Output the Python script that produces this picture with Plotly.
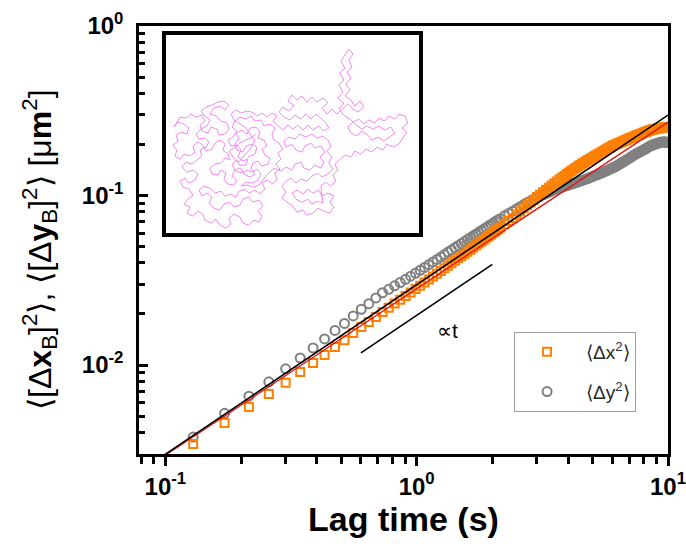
import plotly.graph_objects as go

# ---------------- data ----------------
lag_time = [0.129, 0.172, 0.215, 0.258, 0.301, 0.344, 0.387, 0.430, 0.473, 0.516,
            0.559, 0.602, 0.645, 0.688, 0.731, 0.774, 0.817, 0.860, 0.903, 0.946,
            0.989, 1.032, 1.075, 1.118, 1.161, 1.204, 1.247, 1.290, 1.333, 1.376,
            1.419, 1.462, 1.505, 1.548, 1.591, 1.634, 1.677, 1.720, 1.763, 1.806,
            1.849, 1.892, 1.935, 1.978, 2.021, 2.064, 2.107, 2.150,
            2.236, 2.322, 2.408, 2.494, 2.580, 2.666, 2.752, 2.838, 2.924, 3.010,
            3.096, 3.182, 3.268, 3.354, 3.440, 3.526, 3.612, 3.698, 3.784, 3.870,
            3.956, 4.042, 4.128, 4.214, 4.300,
            4.386, 4.472, 4.558, 4.644, 4.730, 4.816, 4.902, 4.988, 5.074, 5.160,
            5.246, 5.332, 5.418, 5.504, 5.590, 5.676, 5.762, 5.848, 5.934, 6.020,
            6.106, 6.192, 6.278, 6.364, 6.450, 6.536, 6.622, 6.708, 6.794, 6.880,
            6.966, 7.052, 7.138, 7.224, 7.310,
            7.396, 7.482, 7.568, 7.654, 7.740, 7.826, 7.912, 7.998, 8.084, 8.170,
            8.256, 8.342, 8.428, 8.514, 8.600,
            8.686, 8.772, 8.858, 8.944, 9.030, 9.116, 9.202, 9.288, 9.374, 9.460,
            9.546, 9.632, 9.718, 9.804, 9.890, 9.976]

msd_x = [0.00342, 0.00455, 0.00566, 0.00674, 0.00785, 0.00909, 0.01028, 0.01147, 0.01277, 0.01402,
         0.01544, 0.01674, 0.01793, 0.01917, 0.02056, 0.02177, 0.02303, 0.02424, 0.02551, 0.02681,
         0.02809, 0.02937, 0.03066, 0.03195, 0.03328, 0.03459, 0.03590, 0.03721, 0.03857, 0.03990,
         0.04123, 0.04257, 0.04382, 0.04516, 0.04656, 0.04791, 0.04928, 0.05069, 0.05206, 0.05344,
         0.05483, 0.05627, 0.05766, 0.05894, 0.06035, 0.06182, 0.06323, 0.06465,
         0.06757, 0.07065, 0.07377, 0.07715, 0.08050, 0.08398, 0.08751, 0.09100, 0.09445, 0.09786,
         0.1011, 0.1045, 0.1078, 0.1111, 0.1145, 0.1179, 0.1211, 0.1242, 0.1274, 0.1305,
         0.1338, 0.1367, 0.1400, 0.1429, 0.1458,
         0.1487, 0.1513, 0.1542, 0.1567, 0.1596, 0.1622, 0.1646, 0.1672, 0.1697, 0.1721,
         0.1746, 0.1770, 0.1795, 0.1819, 0.1844, 0.1867, 0.1892, 0.1915, 0.1938, 0.1963,
         0.1982, 0.2000, 0.2019, 0.2037, 0.2055, 0.2072, 0.2090, 0.2107, 0.2126, 0.2143,
         0.2159, 0.2175, 0.2191, 0.2209, 0.2224,
         0.2239, 0.2256, 0.2271, 0.2285, 0.2302, 0.2316, 0.2332, 0.2345, 0.2358, 0.2374,
         0.2389, 0.2401, 0.2416, 0.2428, 0.2442,
         0.2449, 0.2457, 0.2463, 0.2471, 0.2476, 0.2483, 0.2490, 0.2497, 0.2500, 0.2506,
         0.2512, 0.2517, 0.2522, 0.2527, 0.2532, 0.2530]

msd_y = [0.00376, 0.00519, 0.00655, 0.00796, 0.00950, 0.01100, 0.01260, 0.01425, 0.01600, 0.01758,
         0.01947, 0.02133, 0.02301, 0.02487, 0.02669, 0.02798, 0.02934, 0.03068, 0.03205, 0.03343,
         0.03478, 0.03623, 0.03764, 0.03905, 0.04055, 0.04194, 0.04344, 0.04486, 0.04636, 0.04773,
         0.04922, 0.05058, 0.05207, 0.05347, 0.05495, 0.05629, 0.05777, 0.05910, 0.06058, 0.06195,
         0.06342, 0.06473, 0.06620, 0.06755, 0.06902, 0.07030, 0.07177, 0.07304,
         0.07583, 0.07833, 0.08087, 0.08339, 0.08588, 0.08835, 0.09079, 0.09294, 0.09506, 0.09723,
         0.09909, 0.1009, 0.1026, 0.1044, 0.1061, 0.1078, 0.1094, 0.1108, 0.1120, 0.1133,
         0.1145, 0.1155, 0.1166, 0.1178, 0.1190,
         0.1202, 0.1215, 0.1228, 0.1239, 0.1250, 0.1264, 0.1278, 0.1292, 0.1305, 0.1318,
         0.1330, 0.1343, 0.1355, 0.1368, 0.1383, 0.1397, 0.1411, 0.1426, 0.1441, 0.1455,
         0.1468, 0.1485, 0.1502, 0.1521, 0.1538, 0.1558, 0.1575, 0.1595, 0.1612, 0.1632,
         0.1648, 0.1669, 0.1689, 0.1709, 0.1730,
         0.1746, 0.1764, 0.1779, 0.1795, 0.1811, 0.1826, 0.1844, 0.1859, 0.1874, 0.1889,
         0.1909, 0.1929, 0.1949, 0.1964, 0.1976,
         0.1985, 0.1997, 0.2006, 0.2018, 0.2026, 0.2037, 0.2046, 0.2056, 0.2062, 0.2066,
         0.2071, 0.2070, 0.2071, 0.2068, 0.2063, 0.2057]

# linear fits (end points)
fit_t = [0.08, 10.0]
fit_black = [0.00238, 0.298]
fit_red = [0.00236, 0.271]

# "proportional to t" guide
guide_t = [0.6, 2.0]
guide_y = [0.0118, 0.0392]

# inset trajectory, (x, y) in micrometre-like units
trajectory = [
    (8.2, 7.6), (8.9, 7.9), (9.1, 8.6), (8.6, 8.9), (8.0, 8.7), (7.7, 8.1), (7.1, 8.3), (6.9, 8.9), (7.3, 9.4), (7.0, 10.0),
    (7.6, 10.3), (8.1, 9.9), (8.4, 10.5), (9.0, 10.6), (9.4, 10.1), (9.2, 9.5), (9.8, 9.3), (10.1, 8.7), (9.6, 8.4), (9.9, 7.8),
    (10.4, 7.5), (10.2, 6.9), (9.6, 6.7), (9.2, 7.2), (8.7, 7.0), (8.5, 6.4), (8.9, 5.9), (8.4, 5.6), (7.8, 5.9), (7.5, 6.5),
    (6.9, 6.3), (6.6, 5.7), (7.1, 5.3), (6.8, 4.8), (6.2, 4.9), (5.8, 5.4), (6.0, 6.0), (5.5, 6.3), (5.2, 5.8), (4.6, 5.9),
    (4.4, 6.5), (4.9, 6.9), (5.5, 7.0), (5.9, 7.5), (6.4, 7.3), (6.2, 7.9), (5.7, 8.3), (5.9, 8.9), (5.4, 9.3), (4.9, 9.0),
    (4.6, 8.4), (4.0, 8.2), (3.7, 8.8), (3.2, 9.1), (2.7, 8.7), (2.9, 8.1), (2.4, 7.7), (1.8, 7.9), (1.4, 7.4), (0.9, 7.7),
    (1.1, 8.3), (0.7, 8.8), (1.2, 9.2), (1.0, 9.8), (1.5, 10.1), (2.1, 9.9), (2.3, 10.5), (1.8, 10.9), (1.2, 11.1), (0.8, 10.6),
    (1.4, 11.6), (2.0, 11.5), (2.5, 11.9), (3.0, 11.6), (3.6, 11.8), (3.9, 11.2), (3.4, 10.8), (3.6, 10.2), (4.2, 10.0), (4.5, 10.6),
    (5.1, 10.4), (5.3, 9.8), (5.9, 9.9), (6.3, 10.4), (6.1, 11.0), (5.5, 11.2), (5.0, 11.7), (4.4, 11.9), (4.8, 12.5), (5.4, 12.7),
    (5.9, 12.3), (6.3, 12.8), (5.8, 13.2), (5.2, 13.1), (4.6, 12.8), (4.0, 12.6), (3.5, 12.2), (3.9, 11.7), (4.4, 11.3), (4.1, 10.7),
    (3.5, 10.4), (3.0, 9.9), (3.3, 9.4), (3.9, 9.5), (4.3, 9.1), (4.0, 8.6), (3.4, 8.3), (3.6, 7.7), (3.1, 7.3), (2.6, 6.9),
    (2.0, 7.1), (1.6, 6.6), (2.1, 6.1), (2.7, 6.3), (3.2, 5.9), (2.9, 5.3), (2.3, 5.0), (1.9, 5.5), (1.4, 5.2), (1.7, 4.6),
    (2.3, 4.4), (2.7, 3.8), (2.2, 3.4), (1.8, 2.9), (2.4, 2.6), (2.1, 2.0), (2.7, 1.7), (3.2, 2.2), (3.7, 1.9), (3.9, 1.3),
    (4.5, 1.0), (5.0, 1.4), (5.4, 0.8), (6.0, 0.5), (6.5, 0.9), (6.3, 1.5), (6.8, 1.9), (7.4, 1.6), (7.7, 1.0), (8.3, 0.8),
    (8.8, 1.3), (9.3, 1.1), (9.6, 1.7), (9.2, 2.2), (9.7, 2.7), (9.3, 3.3), (8.7, 3.1), (8.3, 3.6), (7.7, 3.4), (7.4, 2.8),
    (6.8, 2.6), (6.4, 3.1), (5.8, 2.9), (5.4, 2.3), (4.8, 2.5), (4.3, 3.0), (4.6, 3.6), (4.1, 4.0), (3.6, 3.7), (3.3, 4.3),
    (3.8, 4.7), (4.4, 4.5), (4.9, 4.0), (5.5, 4.2), (5.9, 3.7), (6.5, 3.9), (7.0, 3.6), (7.3, 4.2), (7.9, 4.4), (8.3, 4.0),
    (8.9, 4.3), (9.4, 3.9), (9.9, 4.4), (9.6, 5.0), (10.2, 5.3), (10.7, 4.9), (11.1, 5.4), (10.9, 6.0), (11.4, 6.4), (11.0, 6.9),
    (11.5, 7.4), (11.2, 8.0), (11.7, 8.4), (11.3, 9.0), (10.8, 9.3), (10.6, 9.9), (10.9, 10.5), (10.4, 10.9), (9.8, 10.7), (9.5, 11.3),
    (8.9, 11.2), (8.5, 11.7), (8.0, 11.4), (7.4, 11.6), (6.9, 11.2), (6.6, 10.6), (7.1, 10.2), (6.7, 9.6), (6.2, 9.3), (6.5, 8.7),
    (7.1, 8.8), (7.5, 8.3), (7.2, 7.6), (7.7, 7.2), (8.2, 7.4), (8.0, 6.8), (7.4, 6.8), (7.0, 7.3), (6.6, 6.8), (7.0, 6.2),
    (7.6, 6.0), (8.1, 6.3), (8.6, 6.1), (9.1, 6.4), (9.5, 5.9), (9.2, 5.3), (8.6, 5.0), (8.0, 5.1), (7.5, 4.7), (8.1, 4.8),
    (8.7, 4.6), (9.3, 4.8), (9.9, 5.6), (10.4, 6.1), (10.8, 6.5), (11.5, 6.2), (12.0, 6.6), (12.6, 6.3), (12.9, 6.9), (13.5, 7.1),
    (13.8, 6.5), (14.4, 6.3), (14.9, 6.8), (15.5, 6.5), (15.8, 7.1), (15.4, 7.6), (15.9, 8.1), (15.5, 8.7), (14.9, 8.5), (14.5, 9.0),
    (13.9, 8.7), (13.6, 8.1), (13.0, 8.3), (12.6, 8.9), (12.0, 8.6), (11.8, 9.2), (12.3, 9.6), (12.9, 9.4), (13.4, 9.9), (14.0, 9.6),
    (14.6, 9.9), (15.1, 9.5), (15.7, 9.7), (16.2, 9.3), (16.5, 8.7), (16.1, 8.2), (16.6, 7.6), (16.3, 7.0), (16.7, 6.4), (16.2, 5.9),
    (15.6, 5.6), (15.2, 6.0), (14.6, 5.7), (14.1, 5.2), (13.5, 5.4), (13.0, 5.0), (12.5, 5.5), (12.0, 5.2), (11.6, 4.7), (12.0, 4.1),
    (11.6, 3.5), (12.1, 3.1), (12.7, 2.7), (13.1, 2.1), (13.7, 2.3), (14.1, 1.8), (14.7, 2.0), (15.2, 2.5), (15.8, 2.2), (16.4, 2.0),
    (16.8, 2.6), (16.4, 3.1), (16.8, 3.7), (16.2, 4.0), (15.6, 3.7), (15.3, 4.3), (14.7, 4.0), (14.2, 4.4), (13.7, 3.9), (13.1, 4.3),
    (12.6, 4.0), (13.0, 3.4), (13.6, 3.1), (14.2, 3.4), (14.6, 2.9), (15.2, 3.2), (15.7, 3.0), (15.5, 4.7), (16.0, 5.1), (16.5, 4.7),
    (17.0, 5.2), (16.7, 5.8), (17.2, 6.3), (16.9, 6.9), (17.4, 7.4), (17.9, 7.8), (18.5, 7.6), (18.9, 8.2), (19.5, 7.9), (20.0, 8.4),
    (20.6, 8.1), (21.1, 8.6), (21.7, 8.3), (22.1, 8.9), (22.7, 8.6), (23.3, 8.9), (23.7, 9.5), (24.1, 10.1), (23.6, 10.5), (24.2, 11.0),
    (23.9, 11.7), (23.3, 11.9), (22.9, 11.4), (22.3, 11.7), (21.9, 11.2), (21.3, 11.5), (20.9, 11.0), (20.3, 11.3), (19.8, 10.9), (19.3, 11.4),
    (18.7, 11.1), (18.2, 10.6), (18.5, 10.0), (19.1, 9.7), (19.6, 10.2), (20.2, 9.8), (20.6, 9.3), (21.2, 9.6), (21.8, 9.2), (22.4, 9.6),
    (22.9, 10.0), (22.5, 10.6), (21.9, 10.3), (21.3, 10.7), (20.7, 10.4), (20.1, 10.7), (19.6, 10.4), (19.0, 10.8), (18.4, 11.4), (17.8, 11.8),
    (17.3, 12.4), (17.8, 13.0), (17.2, 13.5), (17.7, 14.1), (17.3, 14.8), (17.8, 15.3), (17.4, 16.0), (17.9, 16.5), (17.5, 17.2), (17.9, 17.8),
    (18.3, 18.4), (18.7, 17.9), (18.3, 17.3), (18.6, 16.6), (18.1, 16.1), (18.5, 15.5), (18.0, 14.9), (18.4, 14.3), (17.9, 13.7), (18.5, 13.3),
    (18.9, 12.7), (19.4, 13.2), (19.8, 12.6), (19.2, 12.1), (18.7, 12.4), (18.2, 12.9), (17.7, 12.4), (17.1, 11.9), (16.6, 12.4), (16.1, 11.9),
    (15.6, 12.5), (16.2, 13.0), (15.7, 13.5), (15.1, 13.1), (14.6, 13.6), (14.1, 13.1), (13.6, 13.7), (13.1, 13.3), (12.6, 13.8), (12.2, 13.2),
    (12.8, 12.8), (12.3, 12.2), (11.7, 12.6), (11.3, 12.1), (11.8, 11.6), (12.4, 11.3), (12.9, 11.8), (13.5, 11.4), (14.0, 11.9), (14.5, 11.4),
    (15.0, 11.9), (15.5, 11.5), (16.0, 11.0), (16.3, 10.5), (15.8, 10.2), (15.3, 10.7), (14.7, 10.3), (14.2, 10.8), (13.7, 10.3), (13.2, 10.8),
    (12.7, 10.4), (12.2, 10.8), (11.7, 10.3), (11.2, 10.8), (10.7, 11.2), (11.1, 11.7), (10.6, 12.0), (10.1, 11.6), (9.6, 12.0), (9.1, 11.7),
    (8.6, 12.1), (8.1, 12.2), (7.5, 12.0), (7.0, 12.3), (6.5, 11.9), (6.8, 11.3), (7.4, 10.9), (7.9, 10.6), (8.5, 9.8), (8.9, 9.2),
    (8.4, 8.4), (7.9, 7.8), (7.3, 7.1), (6.7, 7.6), (6.3, 8.2), (6.8, 8.5), (7.4, 9.0), (7.9, 9.3), (8.5, 9.5), (9.0, 9.9),
]
traj_x = [p[0] for p in trajectory]
traj_y = [p[1] for p in trajectory]

# ---------------- style ----------------
ORANGE = "rgb(255,128,0)"
GRAY = "rgb(128,128,128)"
RED = "rgb(225,20,20)"
PINK = "rgb(242,135,242)"
FONT = "Liberation Sans"

fig = go.Figure()

fig.add_trace(go.Scatter(
    x=lag_time, y=msd_y, mode="markers", name="\u2003⟨Δy<sup>2</sup>⟩",
    legendgroup="y", legendrank=2,
    marker=dict(symbol="circle-open", size=9, color=GRAY, line=dict(width=2, color=GRAY))))
fig.add_trace(go.Scatter(
    x=lag_time, y=msd_x, mode="markers", name="\u2003⟨Δx<sup>2</sup>⟩",
    legendgroup="x", legendrank=1,
    marker=dict(symbol="square-open", size=8, color=ORANGE, line=dict(width=2, color=ORANGE))))
fig.add_trace(go.Scatter(x=fit_t, y=fit_red, mode="lines", showlegend=False,
                         line=dict(color=RED, width=1.3)))
fig.add_trace(go.Scatter(x=fit_t, y=fit_black, mode="lines", showlegend=False,
                         line=dict(color="black", width=1.6)))
fig.add_trace(go.Scatter(x=guide_t, y=guide_y, mode="lines", showlegend=False,
                         line=dict(color="black", width=1.6)))
fig.add_trace(go.Scatter(x=traj_x, y=traj_y, mode="lines", showlegend=False,
                         xaxis="x2", yaxis="y2", line=dict(color=PINK, width=1)))

fig.add_annotation(x=0.121, y=-1.796, xref="x", yref="y", text="∝t", showarrow=False,
                   font=dict(family=FONT, size=21, color="black"))

# y-axis title placed as a rotated annotation
fig.add_annotation(
    x=-0.187, y=0.477, xref="paper", yref="paper", showarrow=False, textangle=-90,
    xanchor="center", yanchor="middle",
    text="⟨[Δ<b>x</b><sub>B</sub>]<sup>2</sup>⟩, ⟨[Δ<b>y</b><sub>B</sub>]<sup>2</sup>⟩ [μ<b>m</b><sup>2</sup>]",
    font=dict(family=FONT, size=32, color="black"))

tickfont = dict(family=FONT, size=24, color="black", weight="bold")

fig.update_layout(
    width=686, height=550,
    margin=dict(l=139, r=18, t=26, b=96, autoexpand=False),
    paper_bgcolor="white", plot_bgcolor="white",
    font=dict(family=FONT, color="black"),
    xaxis=dict(
        type="log", range=[-1.105, 1], showgrid=False, zeroline=False, automargin=False,
        showline=True, linecolor="black", linewidth=2.5, mirror=True,
        ticks="outside", ticklen=9, tickwidth=2.5, tickcolor="black",
        tickmode="array", tickvals=[0.1, 1, 10],
        ticktext=["10<sup>-1</sup>", "10<sup>0</sup>", "10<sup>1</sup>"],
        tickfont=tickfont, ticklabeloverflow="allow",
        minor=dict(tickmode="array",
                   tickvals=[0.08, 0.09, 0.2, 0.3, 0.4, 0.5, 0.6, 0.7, 0.8, 0.9,
                             2, 3, 4, 5, 6, 7, 8, 9],
                   ticks="outside", ticklen=7, tickwidth=2.5, tickcolor="black"),
        title=dict(text="Lag time (s)", standoff=4,
                   font=dict(family=FONT, size=34, color="black", weight="bold")),
    ),
    yaxis=dict(
        type="log", range=[-2.525, 0], showgrid=False, zeroline=False, automargin=False,
        showline=True, linecolor="black", linewidth=2.5, mirror=True,
        ticks="inside", ticklen=9, tickwidth=2.5, tickcolor="black",
        tickmode="array", tickvals=[0.01, 0.1, 1],
        ticktext=["10<sup>-2</sup>", "10<sup>-1</sup>", "10<sup>0</sup>"],
        tickfont=tickfont, ticklabelstandoff=8,
        minor=dict(tickmode="array",
                   tickvals=[0.003, 0.004, 0.005, 0.006, 0.007, 0.008, 0.009,
                             0.02, 0.03, 0.04, 0.05, 0.06, 0.07, 0.08, 0.09,
                             0.2, 0.3, 0.4, 0.5, 0.6, 0.7, 0.8, 0.9],
                   ticks="inside", ticklen=6, tickwidth=2.5, tickcolor="black"),
    ),
    xaxis2=dict(domain=[0.051, 0.529], anchor="y2", range=[0, 25.3],
                showline=True, linecolor="black", linewidth=3.5, mirror=True,
                showticklabels=False, ticks="", showgrid=False, zeroline=False),
    yaxis2=dict(domain=[0.516, 0.979], anchor="x2", range=[0, 19.8],
                showline=True, linecolor="black", linewidth=3.5, mirror=True,
                showticklabels=False, ticks="", showgrid=False, zeroline=False),
    legend=dict(x=0.709, y=0.285, xanchor="left", yanchor="top",
                bgcolor="white", bordercolor="rgb(160,160,160)", borderwidth=1,
                font=dict(family=FONT, size=19, color="rgb(40,40,40)"),
                tracegroupgap=12, indentation=12),
)

fig.write_html("out.html")
